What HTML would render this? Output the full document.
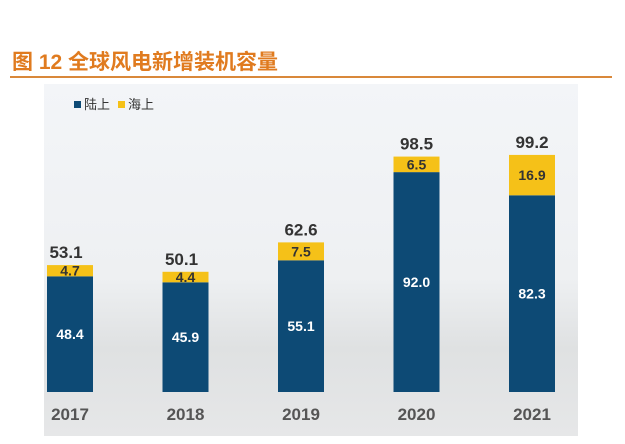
<!DOCTYPE html>
<html><head><meta charset="utf-8"><style>
body{margin:0;width:625px;height:439px;background:#fff;overflow:hidden;font-family:"Liberation Sans","Noto Sans CJK SC",sans-serif;}
</style></head><body>
<svg width="625" height="439" xmlns="http://www.w3.org/2000/svg">
<defs><linearGradient id="bg" x1="0" y1="0" x2="0" y2="1">
<stop offset="0" stop-color="#f3f5f8"/><stop offset="0.55" stop-color="#eef0f2"/><stop offset="0.75" stop-color="#dfe1e2"/><stop offset="1" stop-color="#e6e7e8"/></linearGradient></defs>
<text x="12" y="69" font-size="21" font-weight="bold" fill="#e07b1f" font-family="'Liberation Sans','Noto Sans CJK SC',sans-serif">图 12 全球风电新增装机容量</text>
<rect x="10" y="76" width="602" height="2" fill="#d9883a"/>
<rect x="44" y="84" width="534" height="352" fill="url(#bg)"/>
<g>
<rect x="74" y="101" width="7" height="7" fill="#0d4a75"/>
<text x="84" y="109" font-size="13" fill="#333">陆上</text>
<rect x="118" y="101" width="7" height="7" fill="#f5c118"/>
<text x="128" y="109" font-size="13" fill="#333">海上</text>
</g>
<g id="bars"></g>
</svg>
<script>
const years=["2017","2018","2019","2020","2021"];
const onshore=[48.4,45.9,55.1,92.0,82.3];
const offshore=[4.7,4.4,7.5,6.5,16.9];
const totals=["53.1","50.1","62.6","98.5","99.2"];
const NS="http://www.w3.org/2000/svg";
const g=document.getElementById("bars");
const base=392, k=2.39, x0=47, step=115.5, bw=46;
function y(v){return base-v*k;}
function mk(t,a){const e=document.createElementNS(NS,t);for(const n in a)e.setAttribute(n,a[n]);g.appendChild(e);return e;}
years.forEach((yr,i)=>{
  const x=x0+i*step;
  const on=onshore[i], off=offshore[i];
  const r1=mk("rect",{x:x,y:y(on),width:bw,height:on*k,fill:"#0d4a75"});
  
  
  const r2=mk("rect",{x:x,y:y(on+off),width:bw,height:off*k,fill:"#f5c118"});
  
  
  const t1=mk("text",{x:x+bw/2,y:(y(on)+base)/2+5,"text-anchor":"middle","font-size":14,"font-weight":"bold",fill:"#fff"});
  t1.textContent=on.toFixed(1);
  
  
  const t2=mk("text",{x:x+bw/2,y:(y(on)+y(on+off))/2+5,"text-anchor":"middle","font-size":14,"font-weight":"bold",fill:"#333"});
  t2.textContent=off.toFixed(1);
  
  
  const t3=mk("text",{x:x+bw/2-(i<2?4:0),y:y(on+off)-7,"text-anchor":"middle","font-size":17,"font-weight":"bold",fill:"#333"});
  t3.textContent=totals[i];
  
  
  const t4=mk("text",{x:x+bw/2,y:420,"text-anchor":"middle","font-size":17,"font-weight":"bold",fill:"#555"});
  t4.textContent=yr;
  
  
});
</script>
</body></html>
